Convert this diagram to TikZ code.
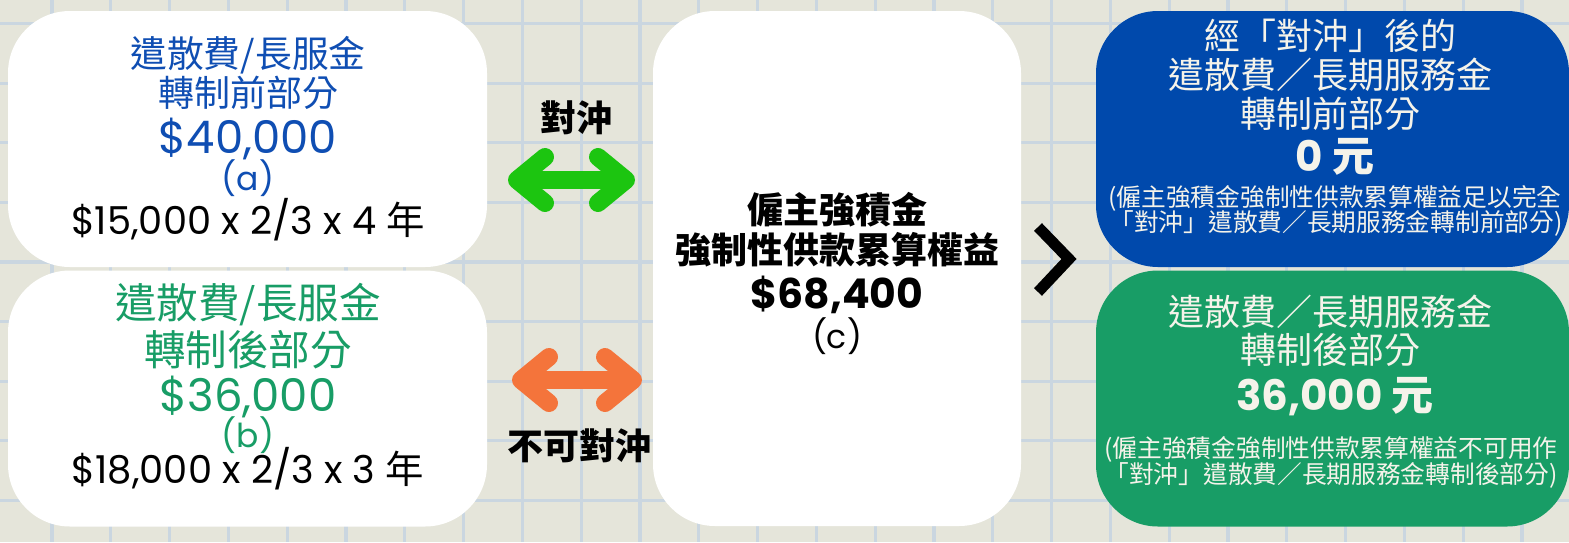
\documentclass[tikz,border=0pt]{standalone}
\usepackage{fontspec}
\setmainfont{Poppins}
\newfontfamily\cjk{Noto Sans CJK TC}
\usetikzlibrary{arrows.meta}
\definecolor{paper}{HTML}{E5E5DA}
\definecolor{gridblue}{HTML}{CAD6E0}
\definecolor{deepblue}{HTML}{0049AC}
\definecolor{deepgreen}{HTML}{189D66}
\definecolor{textblue}{HTML}{0F4EB3}
\definecolor{lightgreen}{HTML}{1CC510}
\definecolor{orangearrow}{HTML}{F4743B}
\definecolor{cream}{HTML}{F5F3EA}
\tikzset{
 box/.style={rounded corners=31pt,inner sep=0,minimum height=128pt},
 txt/.style={inner sep=0,anchor=center,align=center},
 big/.style={txt,font=\cjk\fontsize{18}{20}\selectfont},
 bigger/.style={txt,font=\cjk\fontsize{20.8}{22}\selectfont},
 small/.style={txt,font=\cjk\fontsize{12.35}{14}\selectfont},
 num/.style={txt,font=\fontsize{22.5}{26}\selectfont},
 calc/.style={txt,font=\fontsize{19.2}{22}\selectfont},
 paren/.style={txt,font=\fontsize{16.5}{20}\selectfont},
 boldcjk/.style={txt,font=\cjk\bfseries\fontsize{18}{20}\selectfont},
 boldnum/.style={txt,font=\bfseries\fontsize{20.5}{24}\selectfont},
 boldsum/.style={txt,font=\bfseries\fontsize{21}{24}\selectfont},
 fatarrow/.style={line width=9pt,{Straight Barb[round,length=14pt,width=23pt]}-{Straight Barb[round,length=14pt,width=23pt]}},
}
\newcommand{\nian}{{\cjk 年}}
\newcommand{\yuan}{{\cjk 元}}
\begin{document}
\begin{tikzpicture}[x=0.5pt,y=-0.5pt]
 \useasboundingbox (0,0) rectangle (1569,542);
 \fill[paper] (0,0) rectangle (1569,542);
 % squared paper
 \foreach \i in {0,...,26} \draw[gridblue,line width=1.6pt] (52+58.8*\i,0) -- (52+58.8*\i,542);
 \foreach \j in {0,...,8} \draw[gridblue,line width=1.6pt] (0,23.5+59.6*\j) -- (1569,23.5+59.6*\j);

 \node[box,fill=white,minimum width=239.5pt] (a) at (247.5,139) {};
 \node[box,fill=white,minimum width=239.5pt] (b) at (247.5,398.5) {};
 \node[box,fill=white,minimum width=184pt,minimum height=257.5pt] (c) at (837,268.5) {};
 \node[box,fill=deepblue,minimum width=236.5pt] (d) at (1332.5,139) {};
 \node[box,fill=deepgreen,minimum width=236.5pt] (e) at (1332.5,398.5) {};

 \node[big,textblue,font=\cjk\fontsize{18.4}{20}\selectfont] (a1) at (248,55) {遣散費/長服金};
 \node[big,textblue] (a2) at (248,93) {轉制前部分};
 \node[num,textblue] (a3) at (248,139) {\$40,000};
 \node[paren,textblue] (a4) at (248,178) {(a)};
 \node[calc] (a5) at (248,220) {\$15,000 x 2/3 x 4 \nian};

 \node[bigger,deepgreen] (b1) at (248,305) {遣散費/長服金};
 \node[bigger,deepgreen] (b2) at (248,350) {轉制後部分};
 \node[num,deepgreen] (b3) at (248,397) {\$36,000};
 \node[paren,deepgreen] (b4) at (248,435) {(b)};
 \node[calc] (b5) at (248,469) {\$18,000 x 2/3 x 3 \nian};

 \node[boldcjk] (c1) at (837,210) {僱主強積金};
 \node[boldcjk] (c2) at (837,250) {強制性供款累算權益};
 \node[boldnum] (c3) at (837,295) {\$68,400};
 \node[paren] (c4) at (837,336) {(c)};

 \node[big,cream] (d1) at (1330,36) {經「對沖」後的};
 \node[big,cream] (d2) at (1330,75) {遣散費／長期服務金};
 \node[big,cream] (d3) at (1330,114) {轉制前部分};
 \node[boldsum,cream] (d4) at (1335,157) {0 \yuan};
 \node[small,cream] (d5) at (1335,198) {(僱主強積金強制性供款累算權益足以完全};
 \node[small,cream] (d6) at (1336,223) {「對沖」遣散費／長期服務金轉制前部分)};

 \node[big,cream] (e1) at (1330,312) {遣散費／長期服務金};
 \node[big,cream] (e2) at (1330,350) {轉制後部分};
 \node[boldsum,cream] (e3) at (1335,397) {36,000 \yuan};
 \node[small,cream] (e4) at (1331,449) {(僱主強積金強制性供款累算權益不可用作};
 \node[small,cream] (e5) at (1331,475) {「對沖」遣散費／長期服務金轉制後部分)};

 \node[boldcjk] (hedge) at (576,118) {對沖};
 \node[boldcjk] (nohedge) at (579,446) {不可對沖};

 \coordinate (gl) at (508,180);
 \coordinate (gr) at (635,180);
 \coordinate (ol) at (512,380);
 \coordinate (or) at (642,380);
 \draw[fatarrow,lightgreen] (gl) -- (gr);
 \draw[fatarrow,orangearrow] (ol) -- (or);

 \coordinate (ct) at (1038,227);
 \coordinate (cm) at (1069,259);
 \coordinate (cb) at (1038,292);
 \draw[line width=5.5pt] (ct) -- (cm) -- (cb);
\end{tikzpicture}
\end{document}
